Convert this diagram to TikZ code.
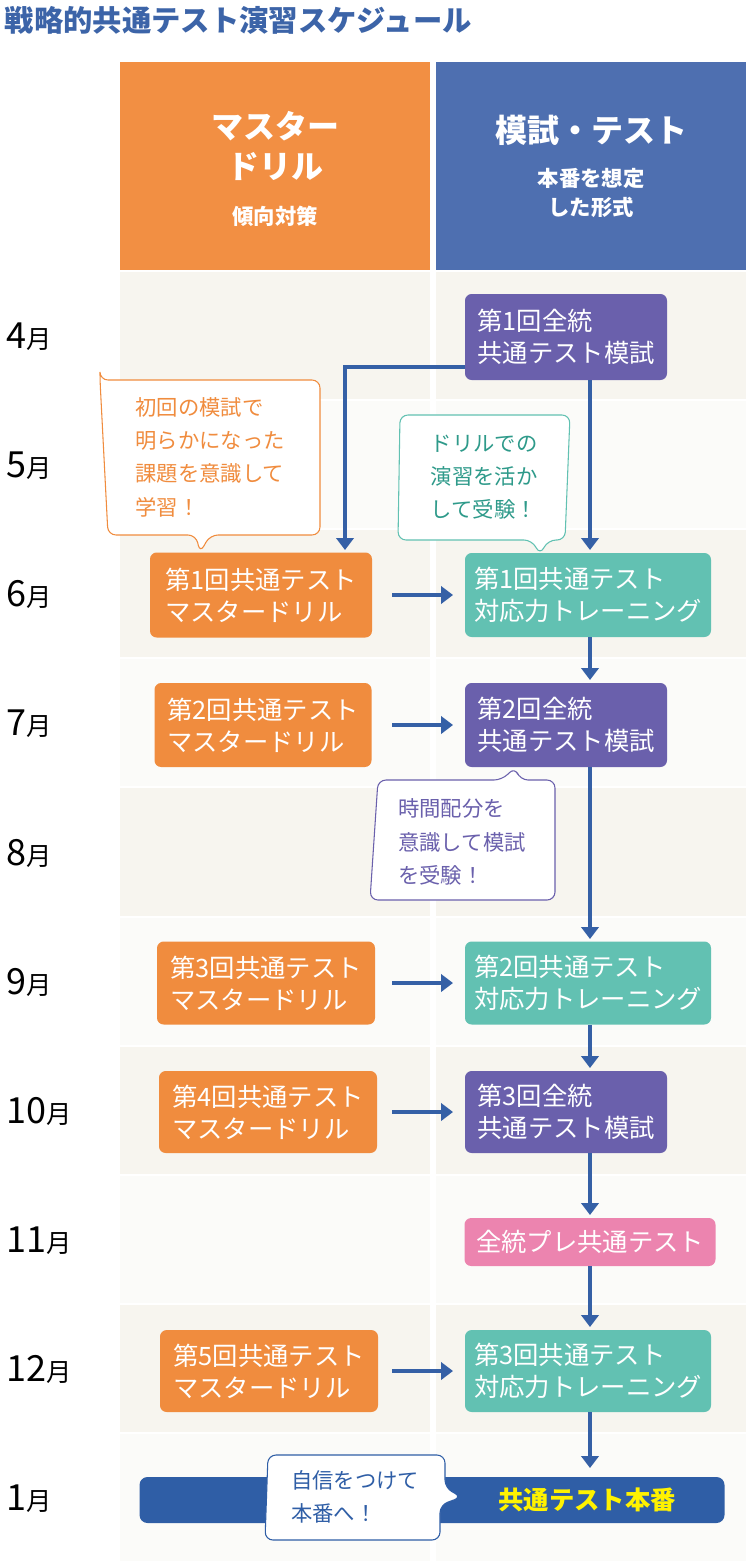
\documentclass[tikz,border=0pt]{standalone}
\usepackage{fontspec}
\setmainfont{Noto Sans CJK JP}
\usetikzlibrary{arrows.meta}
\definecolor{tblue}{HTML}{3C64A8}
\definecolor{horange}{HTML}{F28F43}
\definecolor{hblue}{HTML}{4E6FB0}
\definecolor{norange}{HTML}{F08C3E}
\definecolor{npurple}{HTML}{6A60AC}
\definecolor{nteal}{HTML}{62C1B2}
\definecolor{npink}{HTML}{EC84AF}
\definecolor{bgA}{HTML}{F7F5EF}
\definecolor{bgB}{HTML}{FBFBF9}
\definecolor{arr}{HTML}{3560A6}
\definecolor{finalbar}{HTML}{2F5EA6}
\definecolor{cteal}{HTML}{2E9A8A}
\begin{document}
\begin{tikzpicture}[x=0.75pt,y=-0.75pt,
  box/.style={rounded corners=5pt,text=white,font=\fontsize{19}{24}\selectfont,align=left,inner sep=0pt},
  flow/.style={arr,line width=3.5pt,-{Triangle[length=9pt,width=13pt]}},
  month/.style={anchor=west,font=\fontsize{24}{26}\selectfont},
  call/.style={line width=0.8pt,fill=white,rounded corners=6pt}]
\useasboundingbox (0,0) rectangle (750,1566);
\fill[white] (0,0) rectangle (750,1566);
\node[anchor=west,text=tblue,font=\fontsize{22}{24}\selectfont\bfseries] (title) at (0,20) {戦略的共通テスト演習スケジュール};
% headers
\fill[horange] (120,62) rectangle (430,270);
\fill[hblue] (436,62) rectangle (746,270);
\node[text=white,align=center,font=\fontsize{24}{30}\selectfont\bfseries] (h1) at (275,146) {マスター\\ドリル};
\node[text=white,font=\fontsize{16}{20}\selectfont\bfseries] (h1s) at (275,216) {傾向対策};
\node[text=white,font=\fontsize{24}{30}\selectfont\bfseries] (h2) at (591,130) {模試・テスト};
\node[text=white,align=center,font=\fontsize{16}{22}\selectfont\bfseries] (h2s) at (591,193) {本番を想定\\した形式};
% rows
\foreach \i/\m in {0/4,1/5,2/6,3/7,4/8,5/9,6/10,7/11,8/12,9/1}{
  \pgfmathsetmacro\ya{272+129.1*\i}
  \pgfmathsetmacro\yb{272+129.1*(\i+1)-2}
  \pgfmathsetmacro\yc{272+129.1*(\i+0.5)}
  \pgfmathparse{mod(\i,2)==0?"bgA":"bgB"}\edef\bg{\pgfmathresult}
  \fill[\bg] (120,\ya) rectangle (430,\yb);
  \fill[\bg] (436,\ya) rectangle (746,\yb);
  \node[month] (m\i) at (2,\yc) {{\fontsize{27}{28}\selectfont\m}\fontsize{19}{20}\selectfont 月};
}
% nodes
\node[box,fill=npurple,minimum width=202*0.75pt,minimum height=86*0.75pt] (s1) at (566,337) {第1回全統\\共通テスト模試};
\node[box,fill=norange,minimum width=222*0.75pt,minimum height=85*0.75pt] (d1) at (261,595) {第1回共通テスト\\マスタードリル};
\node[box,fill=nteal,minimum width=246*0.75pt,minimum height=84*0.75pt] (t1) at (588,595) {第1回共通テスト\\対応力トレーニング};
\node[box,fill=norange,minimum width=217*0.75pt,minimum height=84*0.75pt] (d2) at (263,725) {第2回共通テスト\\マスタードリル};
\node[box,fill=npurple,minimum width=202*0.75pt,minimum height=84*0.75pt] (s2) at (566,725) {第2回全統\\共通テスト模試};
\node[box,fill=norange,minimum width=218*0.75pt,minimum height=83*0.75pt] (d3) at (266,983) {第3回共通テスト\\マスタードリル};
\node[box,fill=nteal,minimum width=246*0.75pt,minimum height=83*0.75pt] (t2) at (588,983) {第2回共通テスト\\対応力トレーニング};
\node[box,fill=norange,minimum width=218*0.75pt,minimum height=82*0.75pt] (d4) at (268,1112) {第4回共通テスト\\マスタードリル};
\node[box,fill=npurple,minimum width=202*0.75pt,minimum height=82*0.75pt] (s3) at (566,1112) {第3回全統\\共通テスト模試};
\node[box,fill=npink,minimum width=251*0.75pt,minimum height=48*0.75pt] (p) at (590,1242) {全統プレ共通テスト};
\node[box,fill=norange,minimum width=218*0.75pt,minimum height=82*0.75pt] (d5) at (269,1371) {第5回共通テスト\\マスタードリル};
\node[box,fill=nteal,minimum width=246*0.75pt,minimum height=82*0.75pt] (t3) at (588,1371) {第3回共通テスト\\対応力トレーニング};
\node[fill=finalbar,rounded corners=6pt,minimum width=585*0.75pt,minimum height=46*0.75pt] (fin) at (432,1500) {};
\node[text=yellow,font=\fontsize{19}{22}\selectfont\bfseries] (fint) at (587,1500) {共通テスト本番};
% arrows
\draw[flow] (s1.west|-0,367) -| (345,550);
\draw[flow] (590,380) -- (590,550);
\foreach \a/\b in {d1/t1,d2/s2,d3/t2,d4/s3,d5/t3}{\draw[flow] (392,0|-\a.center) -- (453,0|-\a.center);}
\draw[flow] (t1.south-|590,0) -- (590,680);
\draw[flow] (s2.south-|590,0) -- (590,939);
\draw[flow] (t2.south-|590,0) -- (590,1068);
\draw[flow] (s3.south-|590,0) -- (590,1215);
\draw[flow] (p.south-|590,0) -- (590,1327);
\draw[flow] (t3.south-|590,0) -- (590,1468);
% callouts
\draw[call,draw=norange] (100,380) -- (320,380) -- (320,535) -- (210,535) -- (200,553) -- (196,535) -- (108,535) -- (100,380) -- cycle;
\node[text=norange,align=left,font=\fontsize{16}{25}\selectfont] (c1) at (210,457) {初回の模試で\\明らかになった\\課題を意識して\\学習！};
\draw[call,draw=nteal] (400,415) -- (570,415) -- (565,540) -- (548,540) -- (540,555) -- (532,540) -- (398,540) -- cycle;
\node[text=cteal,align=left,font=\fontsize{16}{25}\selectfont] (c2) at (484,477) {ドリルでの\\演習を活か\\して受験！};
\draw[call,draw=npurple] (378,780) -- (502,780) -- (515,767) -- (520,780) -- (555,780) -- (555,900) -- (370,900) -- cycle;
\node[text=npurple,align=left,font=\fontsize{16}{25}\selectfont] (c3) at (462,842) {時間配分を\\意識して模試\\を受験！};
\draw[call,draw=finalbar] (268,1455) -- (445,1455) -- (445,1488) -- (462,1497) -- (440,1505) -- (440,1540) -- (265,1540) -- cycle;
\node[text=finalbar,align=left,font=\fontsize{16}{25}\selectfont] (c4) at (355,1497) {自信をつけて\\本番へ！};
\end{tikzpicture}
\end{document}
